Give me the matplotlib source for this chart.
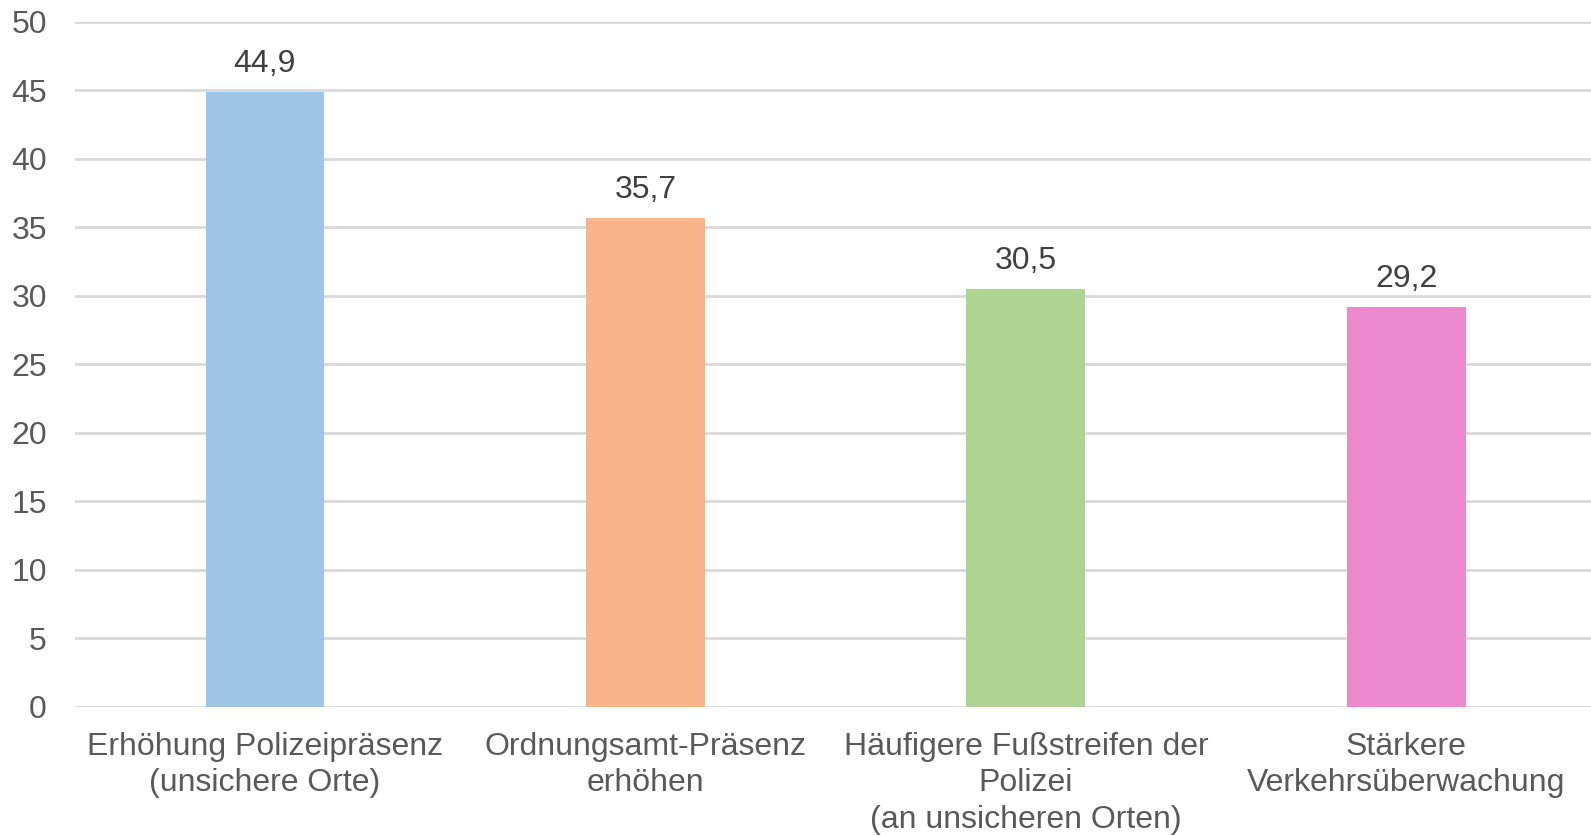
import matplotlib.pyplot as plt

plt.rcParams['font.family'] = ['Liberation Sans', 'DejaVu Sans']

categories = ["Erhöhung Polizeipräsenz\n(unsichere Orte)",
              "Ordnungsamt-Präsenz\nerhöhen",
              "Häufigere Fußstreifen der\nPolizei\n(an unsicheren Orten)",
              "Stärkere\nVerkehrsüberwachung"]
values = [44.9, 35.7, 30.5, 29.2]
colors = ['#9FC5E8', '#F8B48A', '#ADD490', '#ED89CF']
yticks = [0, 5, 10, 15, 20, 25, 30, 35, 40, 45, 50]

fig = plt.figure(figsize=(15.91, 8.36), dpi=100)
ax = fig.add_axes([0.0469, 0.1547, 0.9566, 0.8193])

x = range(len(values))
bars = ax.bar(x, values, width=0.312, color=colors, zorder=3)

for b, v in zip(bars, values):
    ax.annotate(f"{v:.1f}".replace('.', ','),
                (b.get_x() + b.get_width() / 2, v),
                xytext=(0, 9), textcoords='offset points',
                ha='center', va='bottom', fontsize=23, color='#404040')

ax.set_xlim(-0.5, len(values) - 0.5)
ax.set_ylim(0, 50)
ax.set_yticks(yticks)
ax.set_xticks(list(x))
ax.set_xticklabels(categories, fontsize=23, color='#595959', linespacing=1.28)
ax.tick_params(axis='y', labelsize=23, labelcolor='#595959', length=0, pad=20)
ax.tick_params(axis='x', length=0, pad=18)
ax.yaxis.grid(True, color='#D9D9D9', linewidth=2, zorder=0)
for s in ax.spines.values():
    s.set_visible(False)

fig.savefig('out.png', dpi=100)
